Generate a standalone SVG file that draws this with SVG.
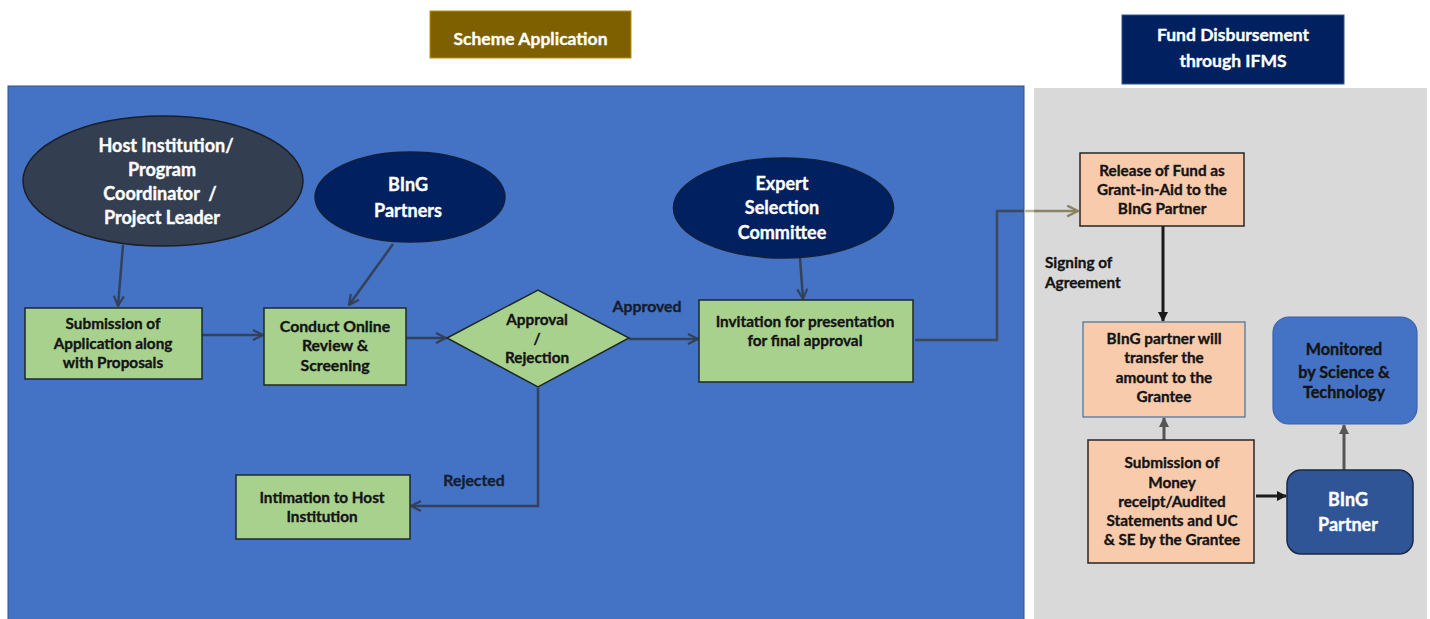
<svg xmlns="http://www.w3.org/2000/svg" width="1430" height="619" viewBox="0 0 1430 619">
<defs>
<style>
.t{font-family:Lato,"Liberation Sans",sans-serif;font-weight:bold;text-anchor:middle;stroke-width:0.35px}
.w{fill:#ffffff;stroke:#ffffff}
.k{fill:#141414;stroke:#141414}
.n{fill:#161d2e;stroke:#161d2e}
.s15{font-size:15.3px}
.s16{font-size:15.8px}
.s18{font-size:18px}
.green{fill:#A9D18E;stroke:#1e2a20;stroke-width:1.5}
.peach{fill:#F8CBAD;stroke:#262626;stroke-width:1.5}
.c{fill:none;stroke:#34415a;stroke-width:2.5}
</style>
<marker id="open" viewBox="0 0 12 12" refX="11" refY="6" markerWidth="12" markerHeight="12" markerUnits="userSpaceOnUse" orient="auto">
<path d="M1,1 L11,6 L1,11" fill="none" stroke="#34415a" stroke-width="2.2"/>
</marker>
<marker id="openOl" viewBox="0 0 12 12" refX="11" refY="6" markerWidth="13" markerHeight="13" markerUnits="userSpaceOnUse" orient="auto">
<path d="M1,1 L11,6 L1,11" fill="none" stroke="#8a8463" stroke-width="2.2"/>
</marker>
<marker id="fillK" viewBox="0 0 10 10" refX="9" refY="5" markerWidth="10" markerHeight="10" markerUnits="userSpaceOnUse" orient="auto">
<path d="M0,0 L10,5 L0,10 Z" fill="#1a1a1a"/>
</marker>
<marker id="fillG" viewBox="0 0 10 10" refX="9" refY="5" markerWidth="10" markerHeight="10" markerUnits="userSpaceOnUse" orient="auto">
<path d="M0,0 L10,5 L0,10 Z" fill="#555555"/>
</marker>
</defs>

<rect width="1430" height="619" fill="#ffffff"/>

<g id="panels">
<rect x="8" y="86" width="1016" height="540" fill="#4472C4" stroke="#2F528F" stroke-width="1"/>
<rect x="1034" y="88" width="393" height="540" fill="#D9D9D9"/>
</g>

<g id="title-scheme">
<rect x="430" y="11" width="201" height="47" fill="#7F6000" stroke="#BF9000" stroke-width="1"/>
<text class="t w" x="530.5" y="45" style="font-size:17.5px">Scheme Application</text>
</g>

<g id="title-fund">
<rect x="1122" y="15" width="222" height="69" fill="#002060" stroke="#2F528F" stroke-width="1"/>
<text class="t w" x="1233" y="41" style="font-size:17.5px">Fund Disbursement</text>
<text class="t w" x="1233" y="67" style="font-size:17.5px">through IFMS</text>
</g>

<g id="connectors">
<path class="c" d="M123,245 L118,306" marker-end="url(#open)"/>
<path class="c" d="M393,244 L349,305" marker-end="url(#open)"/>
<path class="c" d="M202,335 L263,335" marker-end="url(#open)"/>
<path class="c" d="M406,338 L446,338" marker-end="url(#open)"/>
<path class="c" d="M629,339 L698,339" marker-end="url(#open)"/>
<path class="c" d="M800,258 L803,299" marker-end="url(#open)"/>
<path class="c" d="M538,388 L538,506 L411,506" marker-end="url(#open)"/>
<path d="M915,340 L997,340 L997,211 L1024,211" fill="none" stroke="#3f4a58" stroke-width="2.5"/>
<path d="M1024,211 L1034,211" fill="none" stroke="#b8b39c" stroke-width="2.5"/>
<path d="M1034,211 L1078,211" fill="none" stroke="#8a8463" stroke-width="2.5" marker-end="url(#openOl)"/>
<path d="M1163,222 L1163,321" fill="none" stroke="#1a1a1a" stroke-width="3" marker-end="url(#fillK)"/>
<path d="M1164,440 L1164,418" fill="none" stroke="#555555" stroke-width="3" marker-end="url(#fillG)"/>
<path d="M1256,496 L1286,496" fill="none" stroke="#1a1a1a" stroke-width="3" marker-end="url(#fillK)"/>
<path d="M1344,470 L1344,425" fill="none" stroke="#555555" stroke-width="3" marker-end="url(#fillG)"/>
</g>

<g id="labels">
<text class="t n s16" x="647" y="312">Approved</text>
<text class="t n s16" x="474" y="486">Rejected</text>
<text class="t k s15" x="1045" y="268" style="text-anchor:start">Signing of</text>
<text class="t k s15" x="1045" y="288" style="text-anchor:start">Agreement</text>
</g>

<g id="host">
<ellipse cx="163" cy="181" rx="140" ry="65" fill="#333F50" stroke="#1a1f28" stroke-width="1.5"/>
<text class="t w s18" x="166" y="152">Host Institution/</text>
<text class="t w s18" x="162" y="176">Program</text>
<text class="t w s18" x="160" y="200" xml:space="preserve">Coordinator  /</text>
<text class="t w s18" x="162" y="224">Project Leader</text>
</g>

<g id="bing-partners">
<ellipse cx="410" cy="197" rx="95" ry="45" fill="#002060" stroke="#12203a" stroke-width="1.5"/>
<text class="t w s18" x="408" y="191">BInG</text>
<text class="t w s18" x="408" y="217">Partners</text>
</g>

<g id="expert">
<ellipse cx="783.5" cy="208" rx="110" ry="50" fill="#002060" stroke="#12203a" stroke-width="1.5"/>
<text class="t w s18" x="782" y="190">Expert</text>
<text class="t w s18" x="782" y="214">Selection</text>
<text class="t w s18" x="782" y="239">Committee</text>
</g>

<g id="submission">
<rect class="green" x="25" y="308" width="177" height="71"/>
<text class="t k s15" x="113" y="329">Submission of</text>
<text class="t k s15" x="113" y="349">Application along</text>
<text class="t k s15" x="113" y="368">with Proposals</text>
</g>

<g id="conduct">
<rect class="green" x="264" y="308" width="142" height="77"/>
<text class="t k s16" x="335" y="332">Conduct Online</text>
<text class="t k s16" x="335" y="351">Review &amp;</text>
<text class="t k s16" x="335" y="371">Screening</text>
</g>

<g id="decision">
<polygon points="447,338 538,290 629,338 538,387" fill="#A9D18E" stroke="#1e2a20" stroke-width="1.5"/>
<text class="t k s15" x="537" y="325">Approval</text>
<text class="t k s15" x="537" y="344">/</text>
<text class="t k s15" x="537" y="363">Rejection</text>
</g>

<g id="invitation">
<rect class="green" x="699" y="300" width="214" height="82"/>
<text class="t k s15" x="805" y="327">Invitation for presentation</text>
<text class="t k s15" x="805" y="346">for final approval</text>
</g>

<g id="intimation">
<rect class="green" x="236" y="475" width="174" height="64"/>
<text class="t k s15" x="322" y="503">Intimation to Host</text>
<text class="t k s15" x="322" y="522">Institution</text>
</g>

<g id="release">
<rect class="peach" x="1080" y="153" width="164" height="73"/>
<text class="t k s15" x="1162" y="176">Release of Fund as</text>
<text class="t k s15" x="1162" y="195">Grant-in-Aid to the</text>
<text class="t k s15" x="1162" y="214">BInG Partner</text>
</g>

<g id="transfer">
<rect x="1083" y="322" width="162" height="95" fill="#F8CBAD" stroke="#41719C" stroke-width="1.2"/>
<text class="t k s15" x="1164" y="344">BInG partner will</text>
<text class="t k s15" x="1164" y="363">transfer the</text>
<text class="t k s15" x="1164" y="383">amount to the</text>
<text class="t k s15" x="1164" y="402">Grantee</text>
</g>

<g id="money">
<rect class="peach" x="1088" y="440" width="166" height="123"/>
<text class="t k s15" x="1172" y="468">Submission of</text>
<text class="t k s15" x="1172" y="488">Money</text>
<text class="t k s15" x="1172" y="507">receipt/Audited</text>
<text class="t k s15" x="1172" y="526">Statements and UC</text>
<text class="t k s15" x="1172" y="545">&amp; SE by the Grantee</text>
</g>

<g id="monitored">
<rect x="1273" y="317" width="144" height="107" rx="16" ry="16" fill="#4472C4" stroke="#3a63ad" stroke-width="1.2"/>
<text class="t k" x="1344" y="355" style="font-size:16.2px">Monitored</text>
<text class="t k" x="1344" y="378" style="font-size:16.2px">by Science &amp;</text>
<text class="t k" x="1344" y="398" style="font-size:16.2px">Technology</text>
</g>

<g id="bing-partner">
<rect x="1287" y="470" width="126" height="84" rx="14" ry="14" fill="#2F5597" stroke="#1a2a44" stroke-width="1.5"/>
<text class="t w s18" x="1348" y="506">BInG</text>
<text class="t w s18" x="1348" y="531">Partner</text>
</g>
</svg>
